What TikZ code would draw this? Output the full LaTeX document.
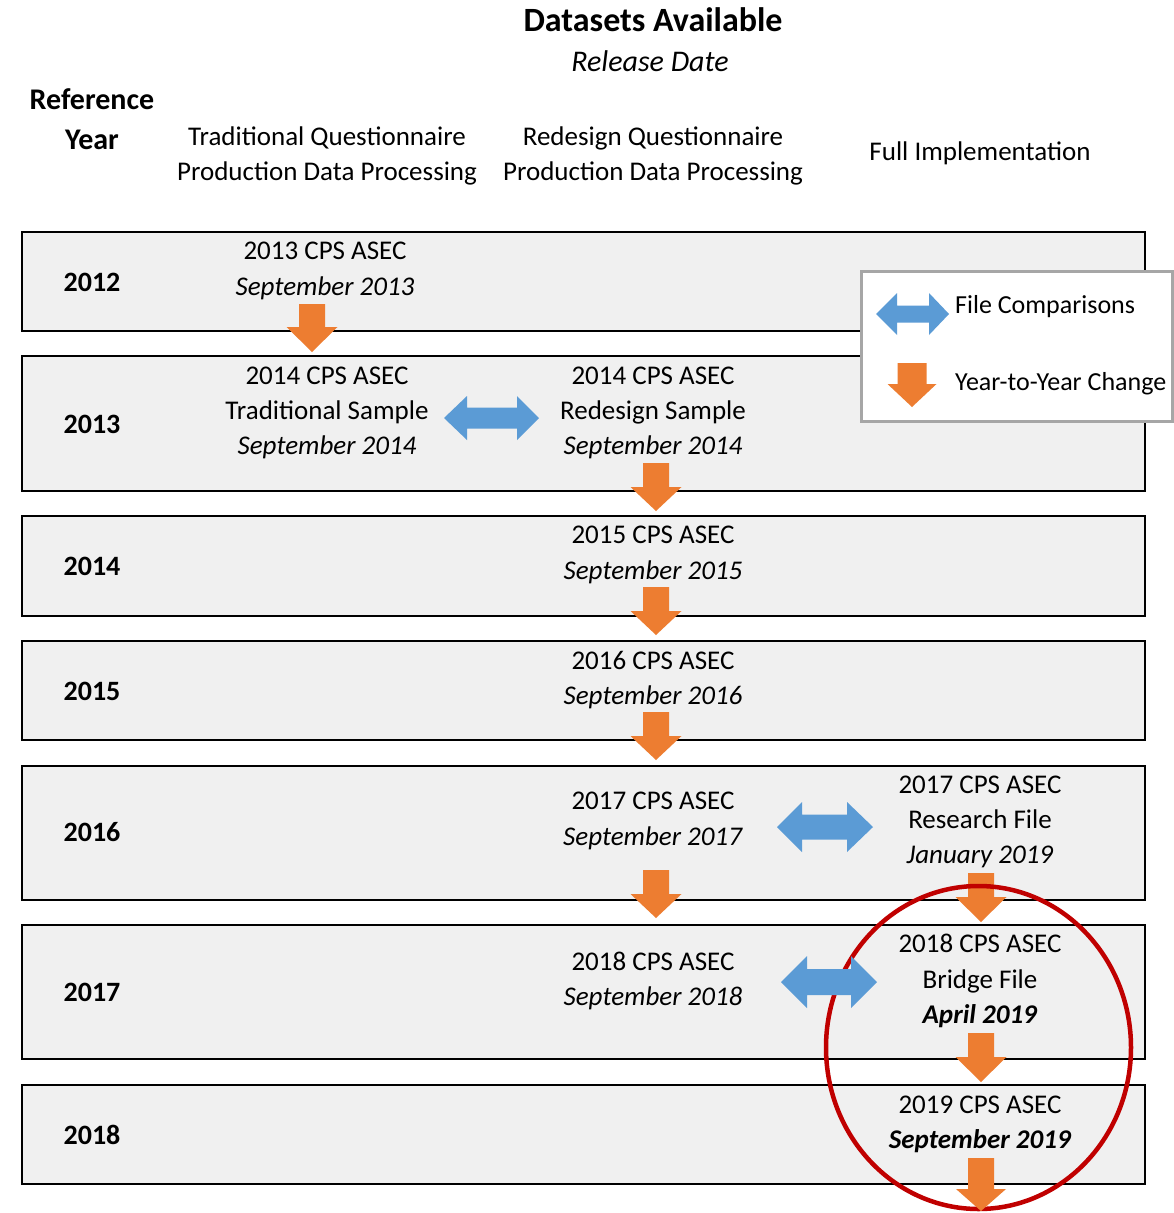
\documentclass[tikz,border=0pt]{standalone}
\usepackage{fontspec}
\setmainfont{Carlito}
\definecolor{rowfill}{HTML}{F0F0F0}
\definecolor{orangec}{HTML}{ED7D31}
\definecolor{bluec}{HTML}{5B9BD5}
\definecolor{redc}{HTML}{C00000}
\definecolor{legendgray}{HTML}{A6A6A6}
% #1 x centre, #2 top, #3 head start, #4 tip, #5 shaft half width, #6 head half width
\newcommand\blockdown[6]{%
  \fill[orangec] (#1-#5,#2) -- (#1+#5,#2) -- (#1+#5,#3) -- (#1+#6,#3) -- (#1,#4)
    -- (#1-#6,#3) -- (#1-#5,#3) -- cycle;}
% #1 left tip, #2 left head inner, #3 right head inner, #4 right tip, #5 y centre, #6 head half, #7 shaft half
\newcommand\blockdbl[7]{%
  \fill[bluec] (#1,#5) -- (#2,#5-#6) -- (#2,#5-#7) -- (#3,#5-#7) -- (#3,#5-#6) -- (#4,#5)
    -- (#3,#5+#6) -- (#3,#5+#7) -- (#2,#5+#7) -- (#2,#5+#6) -- cycle;}
\begin{document}
\begin{tikzpicture}[x=1pt,y=-1pt,
  rowbox/.style={draw=black,line width=2pt,fill=rowfill,anchor=north west,
    minimum width=1123pt,inner sep=0pt},
  txt/.style={align=center,font=\fontsize{27}{35.3}\selectfont,inner sep=0pt},
  yr/.style={font=\fontsize{28}{30}\selectfont\bfseries,inner sep=0pt},
  legtxt/.style={font=\fontsize{26}{28}\selectfont,inner sep=0pt,anchor=west},
]
\useasboundingbox (0,0) rectangle (1173,1213);
\fill[white] (0,0) rectangle (1173,1213);

% header
\node[inner sep=0pt,font=\fontsize{34}{36}\selectfont\bfseries] (title) at (653,20) {Datasets Available};
\node[inner sep=0pt,font=\fontsize{30}{32}\selectfont\itshape] (rel) at (650,61) {Release Date};
\node[inner sep=0pt,align=center,font=\fontsize{30}{40}\selectfont\bfseries] (refyear) at (92,119) {Reference\\Year};
\node[txt] (trq) at (327,156) {Traditional Questionnaire\\Production Data Processing};
\node[txt] (rdq) at (653,156) {Redesign Questionnaire\\Production Data Processing};
\node[txt] (full) at (980,153) {Full Implementation};

% rows
\node[rowbox,minimum height=99pt]  (r2012) at (21,231) {};
\node[rowbox,minimum height=135pt] (r2013) at (21,355) {};
\node[rowbox,minimum height=100pt] (r2014) at (21,515) {};
\node[rowbox,minimum height=99pt]  (r2015) at (21,640) {};
\node[rowbox,minimum height=134pt] (r2016) at (21,765) {};
\node[rowbox,minimum height=134pt] (r2017) at (21,924) {};
\node[rowbox,minimum height=99pt]  (r2018) at (21,1084) {};

% year labels
\node[yr] (y2012) at (92,282) {2012};
\node[yr] (y2013) at (92,424) {2013};
\node[yr] (y2014) at (92,566) {2014};
\node[yr] (y2015) at (92,691) {2015};
\node[yr] (y2016) at (92,832) {2016};
\node[yr] (y2017) at (92,992) {2017};
\node[yr] (y2018) at (92,1135) {2018};

% dataset texts
\node[txt] (a13) at (325,271) {2013 CPS ASEC\\\textit{September 2013}};
\node[txt] (a14) at (327,413) {2014 CPS ASEC\\Traditional Sample\\\textit{September 2014}};
\node[txt] (b14) at (653,413) {2014 CPS ASEC\\Redesign Sample\\\textit{September 2014}};
\node[txt] (b15) at (653,555) {2015 CPS ASEC\\\textit{September 2015}};
\node[txt] (b16) at (653,680) {2016 CPS ASEC\\\textit{September 2016}};
\node[txt] (b17) at (653,821) {2017 CPS ASEC\\\textit{September 2017}};
\node[txt] (b18) at (653,981) {2018 CPS ASEC\\\textit{September 2018}};
\node[txt] (c17) at (980,822) {2017 CPS ASEC\\Research File\\\textit{January 2019}};
\node[txt] (c18) at (980,981) {2018 CPS ASEC\\Bridge File\\\textbf{\textit{April 2019}}};
\node[txt] (c19) at (980,1124) {2019 CPS ASEC\\\textbf{\textit{September 2019}}};

% year-to-year arrows
\blockdown{312}{304}{327}{352}{13}{25.5}
\blockdown{656}{463}{487}{511}{13}{25.5}
\blockdown{656}{587}{611}{635}{13}{25.5}
\blockdown{656}{712}{736}{760}{13}{25.5}
\blockdown{656}{870}{894}{918}{13}{25.5}
\blockdown{981}{873}{897}{922}{13}{25.5}
\blockdown{981}{1033}{1057}{1082}{13}{25.5}

% file comparison arrows
\blockdbl{444}{467}{517}{539}{418}{22}{10.5}
\blockdbl{777}{802}{847}{873}{827}{25}{12.5}

% red circle
\draw[redc,line width=4.5pt] (978.5,1047.5) ellipse [x radius=152.5, y radius=161.5];

\blockdbl{781}{807}{851}{877}{982}{26}{13}
\blockdown{981}{1158}{1189}{1211}{13}{25}

% legend
\node[draw=legendgray,line width=3pt,fill=white,anchor=north west,
  minimum width=311pt,minimum height=150pt,inner sep=0pt] (legend) at (859.5,269.5) {};
\blockdbl{876}{897}{929}{949}{314}{21}{8.5}
\blockdown{912}{363}{384}{407}{14.5}{24.5}
\node[legtxt] (legfc) at (955,307) {File Comparisons};
\node[legtxt] (legyy) at (955,384) {Year-to-Year Change};
\end{tikzpicture}
\end{document}
